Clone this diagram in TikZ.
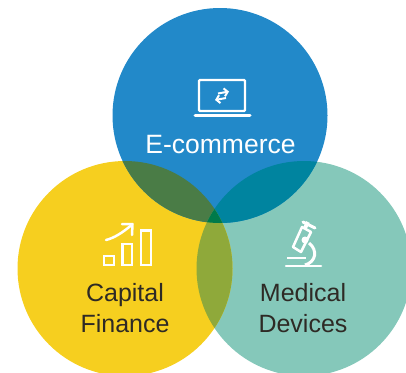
\documentclass[tikz,border=0pt]{standalone}
\usepackage{fontspec}
\usetikzlibrary{arrows.meta}
\setmainfont{Liberation Sans}
\definecolor{cblue}{HTML}{2289C9}
\definecolor{cyellow}{HTML}{F6CF1F}
\definecolor{cgreen}{HTML}{85C8BA}
\definecolor{cby}{HTML}{4A7C46}
\definecolor{cbg}{HTML}{00849F}
\definecolor{cyg}{HTML}{8FA93A}
\definecolor{cmid}{HTML}{007A4A}
\definecolor{ctext}{HTML}{2E2A25}
\tikzset{
 lab/.style={font=\fontsize{25}{31.5}\selectfont,align=center,inner sep=0pt,text=ctext},
 icon/.style={draw=white,line width=2.3pt,fill=none},
 arr/.style={white,line width=2pt,-{Straight Barb[length=3.5pt,width=8pt]}},
}
\begin{document}
\begin{tikzpicture}[x=1pt,y=-1pt]
\useasboundingbox (0,0) rectangle (406,372);
\def\blue{(220,115.5) circle[radius=107.5]}
\def\yel{(125,268.5) circle[radius=107.5]}
\def\grn{(304,268.5) circle[radius=107.5]}
\clip (0,0) rectangle (406,372);
\fill[cgreen] \grn;
\fill[cyellow] \yel;
\fill[cblue] \blue;
\begin{scope}\clip \blue; \fill[cby] \yel; \end{scope}
\begin{scope}\clip \blue; \fill[cbg] \grn; \end{scope}
\begin{scope}\clip \yel; \fill[cyg] \grn; \end{scope}
\begin{scope}\clip \blue; \clip \yel; \fill[cmid] \grn; \end{scope}
% laptop
\draw[icon,rounded corners=1pt] (199,80) rectangle (245,111);
\draw[white,line width=3pt,line cap=round] (195,115.5) -- (250,115.5);
\draw[arr] (218,93.5) -- (229,91.5);
\draw[arr] (226,98) -- (215,100);
% chart
\draw[icon] (104,256) rectangle (114,265);
\draw[icon] (122.5,244) rectangle (132,265);
\draw[icon] (141,230.5) rectangle (151,265);
\draw[white,line width=2.5pt,line cap=round] (106,240) .. controls (114,238) and (122,233) .. (131,225.5);
\draw[white,line width=2.5pt,line cap=round,line join=round] (122,224) -- (132.5,224) -- (132,235);
% microscope
\draw[white,line width=2.5pt,line cap=round] (286,266) -- (321,266);
\draw[white,line width=2.5pt,line join=round] (293,247) -- (302,227) -- (311,232) -- (301,252) -- cycle;
\draw[white,line width=4pt] (305,228) -- (308,222);
\draw[white,line width=3pt,line cap=round] (303,222) -- (315,228);
\fill[white] (305,240) circle[radius=3.5];
\draw[white,line width=3pt] (309,243) .. controls (318,250) and (316,262) .. (305,265);
\draw[white,line width=2.5pt] (287,258) -- (306,258);
\node[lab,text=white,font=\fontsize{26.5}{31}\selectfont] (ecom) at (220.5,145) {E-commerce};
\node[lab] (cap) at (125,308) {Capital\\Finance};
\node[lab] (med) at (303,308) {Medical\\Devices};
\end{tikzpicture}
\end{document}
